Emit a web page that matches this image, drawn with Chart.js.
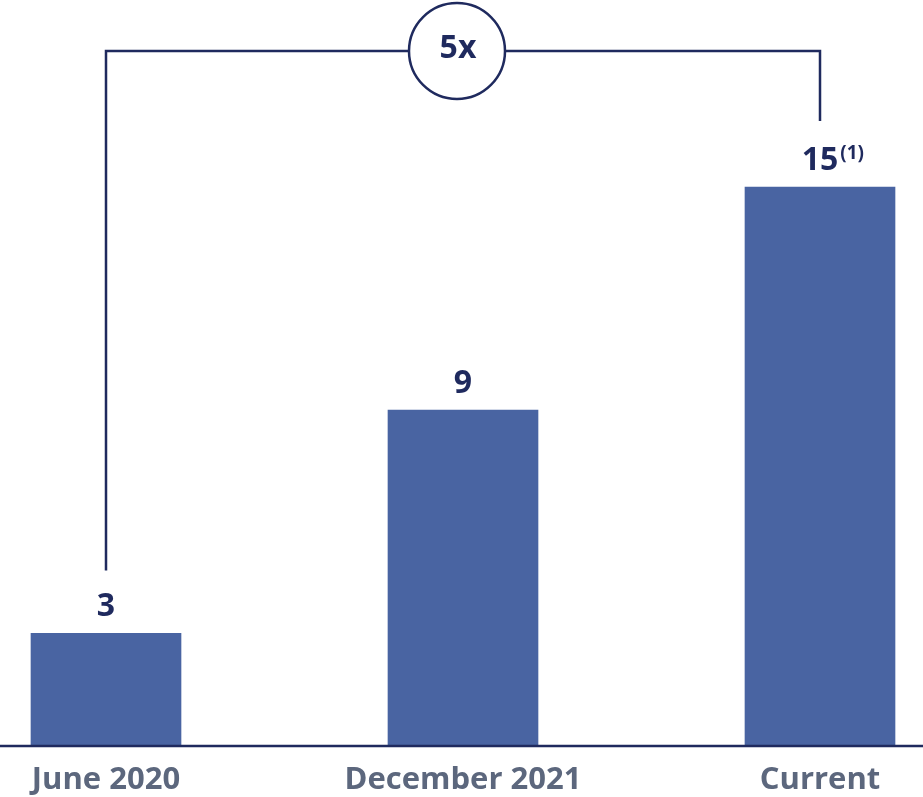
<!DOCTYPE html>
<html>
<head>
<meta charset="utf-8">
<script src="https://cdn.jsdelivr.net/npm/chart.js@4/dist/chart.umd.min.js"></script>
<style>
  html, body { margin: 0; padding: 0; background: #ffffff; }
  #wrap { width: 923px; height: 797px; position: relative; }
</style>
</head>
<body>
<div id="wrap"><canvas id="chart"></canvas></div>
<script>
// Category labels and values
const categories = ['June 2020', 'December 2021', 'Current'];
const counts = [3, 9, 15];
const valueLabels = ['3', '9', '15'];
const footnoteMarks = ['', '', '(1)'];
const growthLabel = '5x';

const NAVY = '#1f2a5e';
const BAR = '#4964a2';
const GREY = '#5c677d';
const FONT = "'Open Sans', sans-serif";

// Full-width baseline under the bars
const baselinePlugin = {
  id: 'baseline',
  afterDatasetsDraw(chart) {
    const { ctx, chartArea } = chart;
    ctx.save();
    ctx.strokeStyle = NAVY;
    ctx.lineWidth = 2.5;
    ctx.beginPath();
    ctx.moveTo(0, chartArea.bottom + 1);
    ctx.lineTo(chart.width, chartArea.bottom + 1);
    ctx.stroke();
    ctx.restore();
  }
};

// Value labels above each bar, with an optional footnote marker
const valueLabelPlugin = {
  id: 'valueLabels',
  afterDatasetsDraw(chart) {
    const { ctx } = chart;
    const meta = chart.getDatasetMeta(0);
    ctx.save();
    ctx.fillStyle = NAVY;
    meta.data.forEach((bar, i) => {
      const y = bar.y - 17;
      ctx.font = `bold 32px ${FONT}`;
      ctx.textAlign = 'center';
      ctx.textBaseline = 'alphabetic';
      ctx.fillText(valueLabels[i], bar.x, y);
      if (footnoteMarks[i]) {
        const w = ctx.measureText(valueLabels[i]).width;
        ctx.font = `bold 19px ${FONT}`;
        ctx.textAlign = 'left';
        ctx.fillText(footnoteMarks[i], bar.x + w / 2 + 2, y - 11);
      }
    });
    ctx.restore();
  }
};

// Bracket joining the first and last bars, with the growth multiple in a circle
const bracketPlugin = {
  id: 'growthBracket',
  afterDatasetsDraw(chart) {
    const { ctx } = chart;
    const xs = chart.scales.x, ys = chart.scales.y;
    const last = counts.length - 1;
    const x0 = xs.getPixelForValue(0);
    const x1 = xs.getPixelForValue(last);
    const y0 = ys.getPixelForValue(counts[0]) - 63;
    const y1 = ys.getPixelForValue(counts[last]) - 66;
    const top = 51;
    const cx = xs.getPixelForValue(1) - 6;
    const r = 48;
    ctx.save();
    ctx.strokeStyle = NAVY;
    ctx.lineWidth = 2.5;
    ctx.beginPath();
    ctx.moveTo(x0, y0);
    ctx.lineTo(x0, top);
    ctx.lineTo(cx - r, top);
    ctx.moveTo(cx + r, top);
    ctx.lineTo(x1, top);
    ctx.lineTo(x1, y1);
    ctx.stroke();
    ctx.beginPath();
    ctx.arc(cx, top, r, 0, Math.PI * 2);
    ctx.fillStyle = '#ffffff';
    ctx.fill();
    ctx.stroke();
    ctx.fillStyle = NAVY;
    ctx.font = `bold 32px ${FONT}`;
    ctx.textAlign = 'center';
    ctx.textBaseline = 'middle';
    ctx.fillText(growthLabel, cx + 1, top - 2);
    ctx.restore();
  }
};

new Chart(document.getElementById('chart'), {
  type: 'bar',
  data: {
    labels: categories,
    datasets: [{
      data: counts,
      backgroundColor: BAR,
      barThickness: 150,
      clip: false
    }]
  },
  options: {
    responsive: true,
    maintainAspectRatio: false,
    animation: false,
    layout: { padding: { left: 106, right: 103, top: 1, bottom: 0 } },
    plugins: {
      legend: { display: false },
      tooltip: { enabled: false }
    },
    scales: {
      x: {
        offset: false,
        border: { display: false },
        grid: { display: false, drawTicks: false },
        ticks: {
          color: GREY,
          font: { family: FONT, size: 31, weight: 'bold' },
          padding: 17,
          maxRotation: 0,
          autoSkip: false
        },
        afterFit(scale) { scale.height = 52; }
      },
      y: {
        display: false,
        min: 0,
        max: 20
      }
    }
  },
  plugins: [baselinePlugin, valueLabelPlugin, bracketPlugin]
});
</script>
</body>
</html>
